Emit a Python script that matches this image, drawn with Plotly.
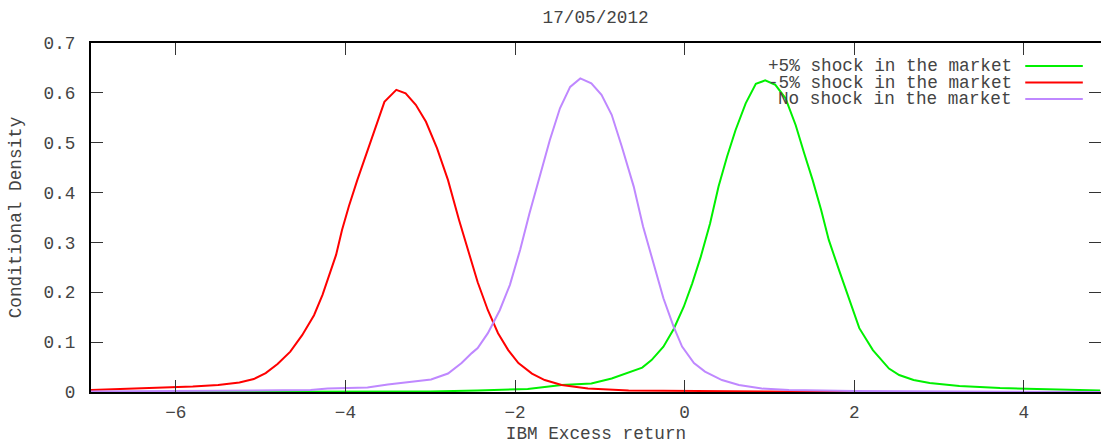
import plotly.graph_objects as go

# Conditional densities of IBM excess return under three market scenarios
series_names = ["+5% shock in the market", "-5% shock in the market", "No shock in the market"]
series_colors = ["#00f000", "#ff0000", "#bf88ff"]

up_x = [-7.0, -5.0, -3.0, -2.44, -2.04, -1.85, -1.45, -1.10, -0.86, -0.66, -0.50, -0.39,
        -0.25, -0.13, -0.01, 0.09, 0.19, 0.30, 0.40, 0.50, 0.60, 0.72, 0.84, 0.95, 1.07,
        1.19, 1.31, 1.41, 1.51, 1.61, 1.70, 1.82, 1.94, 2.06, 2.22, 2.41, 2.53, 2.70,
        2.89, 3.24, 3.72, 4.0, 4.9]
up_y = [0.0, 0.0005, 0.001, 0.003, 0.005, 0.006, 0.014, 0.017, 0.027, 0.039, 0.049, 0.064,
        0.091, 0.126, 0.171, 0.218, 0.271, 0.338, 0.412, 0.472, 0.525, 0.579, 0.618, 0.625,
        0.616, 0.589, 0.535, 0.479, 0.425, 0.365, 0.305, 0.245, 0.185, 0.128, 0.084, 0.047,
        0.034, 0.024, 0.018, 0.012, 0.008, 0.007, 0.003]

down_x = [-7.0, -6.6, -6.2, -5.8, -5.5, -5.25, -5.08, -4.94, -4.80, -4.65, -4.51, -4.37,
          -4.27, -4.19, -4.11, -4.04, -3.96, -3.86, -3.76, -3.64, -3.54, -3.40, -3.29,
          -3.17, -3.05, -2.92, -2.79, -2.66, -2.54, -2.44, -2.32, -2.20, -2.08, -1.96,
          -1.80, -1.65, -1.45, -1.14, -0.66, -0.07, 0.5, 1.5, 2.5, 3.5, 4.9]
down_y = [0.004, 0.006, 0.008, 0.011, 0.014, 0.019, 0.026, 0.038, 0.056, 0.081, 0.114, 0.154,
          0.195, 0.235, 0.275, 0.325, 0.372, 0.425, 0.475, 0.535, 0.582, 0.606, 0.599,
          0.576, 0.542, 0.489, 0.425, 0.345, 0.275, 0.220, 0.164, 0.118, 0.084, 0.058,
          0.037, 0.024, 0.014, 0.007, 0.003, 0.002, 0.001, 0.0005, 0.0002, 0.0001, 0.0]

none_x = [-7.0, -6.0, -5.2, -4.8, -4.41, -4.21, -3.74, -3.50, -3.15, -2.99, -2.79, -2.63,
          -2.51, -2.44, -2.32, -2.18, -2.06, -1.94, -1.83, -1.71, -1.59, -1.47, -1.35,
          -1.23, -1.10, -0.98, -0.86, -0.74, -0.60, -0.49, -0.37, -0.25, -0.13, -0.03,
          0.11, 0.24, 0.44, 0.64, 0.91, 1.23, 2.0, 3.0, 4.0, 4.9]
none_y = [0.001, 0.002, 0.002, 0.003, 0.004, 0.007, 0.009, 0.015, 0.021, 0.025, 0.037, 0.058,
          0.078, 0.088, 0.118, 0.164, 0.215, 0.285, 0.358, 0.432, 0.505, 0.569, 0.612,
          0.629, 0.619, 0.596, 0.556, 0.492, 0.412, 0.332, 0.258, 0.188, 0.131, 0.091,
          0.058, 0.041, 0.024, 0.014, 0.007, 0.004, 0.002, 0.001, 0.001, 0.0]

x_ticks = [-6, -4, -2, 0, 2, 4]
x_tick_labels = ["\u22126", "\u22124", "\u22122", "0", "2", "4"]
y_ticks = [0, 0.1, 0.2, 0.3, 0.4, 0.5, 0.6, 0.7]
y_tick_labels = ["0", "0.1", "0.2", "0.3", "0.4", "0.5", "0.6", "0.7"]

FONT = "Liberation Mono, Courier New, monospace"
FS = 17.7
TXT = "#444444"

fig = go.Figure()
for name, color, xs, ys in zip(series_names, series_colors,
                               [up_x, down_x, none_x], [up_y, down_y, none_y]):
    fig.add_trace(go.Scatter(x=xs, y=ys, mode="lines", name=name,
                             line=dict(color=color, width=2), showlegend=False))

# key drawn gnuplot-style: right-aligned text followed by a line sample
for i, (name, color) in enumerate(zip(series_names, series_colors)):
    y_px = 66 + i * 16.5
    yp = 1 - (y_px - 43) / 349
    fig.add_annotation(x=0.914, y=yp, xref="paper", yref="paper", text=name,
                       showarrow=False, xanchor="right", yanchor="middle",
                       font=dict(family=FONT, size=FS, color=TXT))
    fig.add_shape(type="line", xref="paper", yref="paper",
                  x0=0.925, x1=0.982, y0=yp, y1=yp,
                  line=dict(color=color, width=2))

fig.update_layout(
    width=1101, height=448,
    margin=dict(l=91, r=0, t=43, b=56),
    paper_bgcolor="white", plot_bgcolor="white",
    font=dict(family=FONT, size=FS, color=TXT),
    title=dict(text="17/05/2012", x=0.541, xanchor="center", y=0.962, yanchor="middle",
               font=dict(family=FONT, size=FS, color=TXT)),
    xaxis=dict(range=[-7, 4.91], tickvals=x_ticks, ticktext=x_tick_labels,
               ticks="inside", ticklen=12, tickcolor="#333333", tickwidth=1,
               showline=True, linecolor="black", linewidth=2, mirror="ticks",
               showgrid=False, zeroline=False, ticklabelstandoff=3,
               title=dict(text="IBM Excess return", standoff=4,
                          font=dict(family=FONT, size=FS, color=TXT))),
    yaxis=dict(range=[0, 0.7], tickvals=y_ticks, ticktext=y_tick_labels,
               ticks="inside", ticklen=12, tickcolor="#333333", tickwidth=1,
               showline=True, linecolor="black", linewidth=2,
               showgrid=False, zeroline=False, ticklabelstandoff=10,
               title=dict(text="Conditional Density", standoff=17,
                          font=dict(family=FONT, size=FS, color=TXT))),
    yaxis2=dict(range=[0, 0.7], tickvals=y_ticks, overlaying="y", side="right",
                ticks="inside", ticklen=12, tickcolor="#333333", tickwidth=1,
                showticklabels=False, showline=False, showgrid=False, zeroline=False),
)
# invisible trace so the right-hand tick axis is drawn
fig.add_trace(go.Scatter(x=[-7], y=[0], yaxis="y2", mode="markers",
                         marker=dict(opacity=0), showlegend=False, hoverinfo="skip"))

fig.write_html("out.html")
